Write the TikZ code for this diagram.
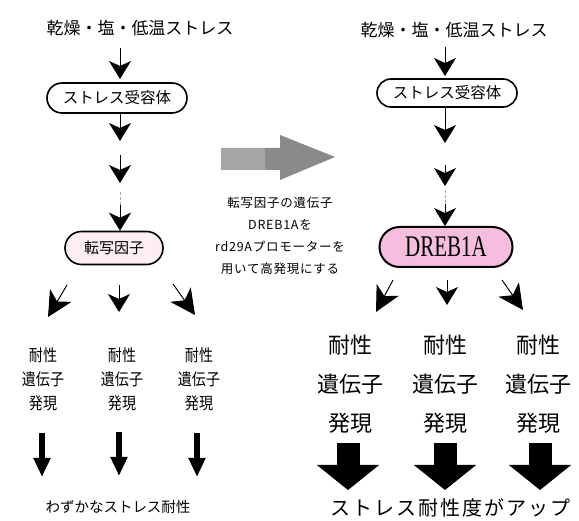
\documentclass[tikz,border=0pt]{standalone}
\usepackage{fontspec}
\setmainfont{Noto Sans CJK JP}
\newfontfamily\jpnarrow[FakeStretch=0.85]{Noto Sans CJK JP}
\newfontfamily\jpspaced[LetterSpace=10]{Noto Sans CJK JP}
\newfontfamily\jpmid[LetterSpace=6]{Noto Sans CJK JP}
\newfontfamily\drebfont[FakeStretch=0.7]{Liberation Serif}
\usetikzlibrary{arrows.meta,shapes.misc}
\definecolor{palepink}{RGB}{252,238,242}
\definecolor{drebpink}{RGB}{245,190,222}
\definecolor{arrgray}{RGB}{138,138,138}
\definecolor{arrlight}{RGB}{165,165,165}
\tikzset{
  arr/.style={-{Stealth[length=18pt,width=22pt,inset=5pt]}, line width=1pt},
  darr/.style={-{Stealth[length=25pt,width=25pt,inset=7pt]}, line width=1pt},
  oval/.style={rounded rectangle, draw, line width=1.6pt, minimum width=140pt, minimum height=30pt, inner sep=0pt},
  thickL/.style={line width=6.5pt, -{Triangle[length=19pt,width=16pt]}},
  thickR/.style={line width=23pt, -{Triangle[length=25pt,width=61pt]}},
  gap/.style={draw=black!35, line width=0.8pt, dash pattern=on 3pt off 2pt},
  titletext/.style={font=\fontsize{17}{20}\selectfont, inner sep=0pt},
  colL/.style={font=\jpnarrow\fontsize{16.5}{24}\selectfont, align=center, inner sep=0pt},
  colR/.style={font=\fontsize{22}{39}\selectfont, align=center, inner sep=0pt}
}
\begin{document}
\begin{tikzpicture}[x=1pt,y=-1pt]
\useasboundingbox (0,0) rectangle (579,521);
% ---------- left column ----------
\node[titletext] (tL) at (140,28) {乾燥・塩・低温ストレス};
\node[oval, font=\fontsize{15.5}{18}\selectfont] (rL) at (117,98) {ストレス受容体};
\node[oval, fill=palepink, minimum width=98pt, minimum height=33pt, font=\fontsize{15}{18}\selectfont] (tfL) at (114,248) {転写因子};
\coordinate (L1s) at (120,48); \coordinate (L1e) at (120,79);
\coordinate (L2e) at (120,141);
\coordinate (L3s) at (120,155); \coordinate (L3e) at (120,183);
\coordinate (L4s) at (120,192); \coordinate (L4m) at (120,205);
\draw[arr] (L1s) -- (L1e);
\draw[arr] (rL.south -| L2e) -- (L2e);
\draw[arr] (L3s) -- (L3e);
\draw[gap] (L4s) -- (L4m);
\draw[arr] (L4m) -- (tfL.north -| L4m);
\node[colL] (gL1) at (43,379) {耐性\\遺伝子\\発現};
\node[colL] (gL2) at (122,379) {耐性\\遺伝子\\発現};
\node[colL] (gL3) at (199,379) {耐性\\遺伝子\\発現};
\coordinate (dLa) at (67,285); \coordinate (dLat) at (48,317);
\coordinate (dLb) at (119,285); \coordinate (dLbt) at (119,312);
\coordinate (dLc) at (173,284); \coordinate (dLct) at (195,315);
\draw[darr] (dLa) -- (dLat);
\draw[arr] (dLb) -- (dLbt);
\draw[darr] (dLc) -- (dLct);
\node[font=\fontsize{14.5}{17}\selectfont, inner sep=0pt] (resL) at (118,507) {わずかなストレス耐性};
\coordinate (tkL1) at (42,433); \coordinate (tkL1e) at (42,477);
\coordinate (tkL2) at (119,432); \coordinate (tkL2e) at (119,476);
\coordinate (tkL3) at (197,433); \coordinate (tkL3e) at (197,477);
\draw[thickL] (tkL1) -- (tkL1e);
\draw[thickL] (tkL2) -- (tkL2e);
\draw[thickL] (tkL3) -- (tkL3e);
% ---------- middle gray arrow and note ----------
\fill[arrgray] (221,148) -- (280,148) -- (280,135) -- (335,157) -- (280,180) -- (280,170) -- (221,170) -- cycle;
\fill[arrlight] (221,148) rectangle (265,170);
\node[font=\jpmid\fontsize{12.5}{22}\selectfont, align=center, inner sep=0pt] (note) at (280,236)
  {転写因子の遺伝子\\DREB1Aを\\rd29Aプロモーターを\\用いて高発現にする};
% ---------- right column ----------
\node[titletext] (tR) at (454,30) {乾燥・塩・低温ストレス};
\node[oval, minimum height=28pt, font=\fontsize{15.5}{18}\selectfont] (rR) at (447,93) {ストレス受容体};
\node[oval, fill=drebpink, line width=2pt, minimum width=133pt, minimum height=40pt, font=\drebfont\fontsize{30}{32}\selectfont] (dreb) at (446,247) {DREB1A};
\coordinate (R1s) at (445,47); \coordinate (R1e) at (445,76);
\coordinate (R2e) at (445,143);
\coordinate (R3s) at (445,165); \coordinate (R3e) at (445,186);
\coordinate (R4s) at (445,190); \coordinate (R4m) at (445,204);
\draw[arr] (R1s) -- (R1e);
\draw[arr] (rR.south -| R2e) -- (R2e);
\draw[arr] (R3s) -- (R3e);
\draw[gap] (R4s) -- (R4m);
\draw[arr] (R4m) -- (dreb.north -| R4m);
\coordinate (dRa) at (393,280); \coordinate (dRat) at (376,312);
\coordinate (dRb) at (447,280); \coordinate (dRbt) at (447,305);
\coordinate (dRc) at (502,280); \coordinate (dRct) at (523,310);
\draw[darr] (dRa) -- (dRat);
\draw[arr] (dRb) -- (dRbt);
\draw[darr] (dRc) -- (dRct);
\node[colR] (gR1) at (350,384) {耐性\\遺伝子\\発現};
\node[colR] (gR2) at (445,384) {耐性\\遺伝子\\発現};
\node[colR] (gR3) at (538,384) {耐性\\遺伝子\\発現};
\coordinate (tkR1) at (348,443); \coordinate (tkR1e) at (348,490);
\coordinate (tkR2) at (445,443); \coordinate (tkR2e) at (445,490);
\coordinate (tkR3) at (540,443); \coordinate (tkR3e) at (540,490);
\draw[thickR] (tkR1) -- (tkR1e);
\draw[thickR] (tkR2) -- (tkR2e);
\draw[thickR] (tkR3) -- (tkR3e);
\node[font=\jpspaced\fontsize{20}{24}\selectfont, inner sep=0pt] (resR) at (450,508) {ストレス耐性度がアップ};
\end{tikzpicture}
\end{document}
